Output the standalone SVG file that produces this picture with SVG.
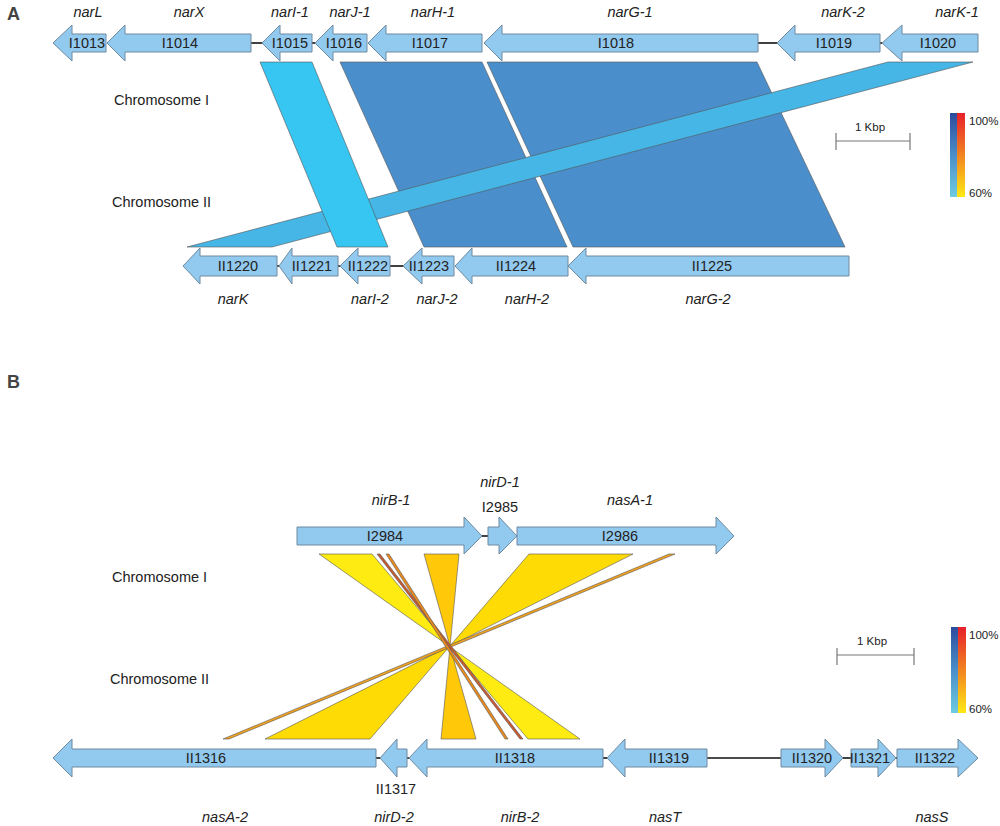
<svg xmlns="http://www.w3.org/2000/svg" width="1000" height="826" viewBox="0 0 1000 826">
<defs>
<style>
.gene{fill:#92C9EE;stroke:#6E8AA0;stroke-width:1}
.ln{stroke:#111;stroke-width:1.6;fill:none}
.lbl{font-family:"Liberation Sans",Arial,sans-serif;font-size:14.5px;fill:#222;text-anchor:middle}
.gn{font-family:"Liberation Sans",Arial,sans-serif;font-size:14.5px;font-style:italic;fill:#222;text-anchor:middle}
.chr{font-family:"Liberation Sans",Arial,sans-serif;font-size:14.5px;fill:#222}
.pl{font-family:"Liberation Sans",Arial,sans-serif;font-size:18px;font-weight:bold;fill:#444}
.sm{font-family:"Liberation Sans",Arial,sans-serif;font-size:11.5px;fill:#222}
.band{stroke:#555;stroke-width:0.6}
.bar{stroke:#777;stroke-width:1.2;fill:none}
</style>
<linearGradient id="gBlue" x1="0" y1="0" x2="0" y2="1">
<stop offset="0" stop-color="#2D4C9C"/><stop offset="0.5" stop-color="#4A8ECA"/><stop offset="1" stop-color="#6ECBE0"/>
</linearGradient>
<linearGradient id="gRed" x1="0" y1="0" x2="0" y2="1">
<stop offset="0" stop-color="#E8202A"/><stop offset="0.45" stop-color="#F07A22"/><stop offset="1" stop-color="#FFE814"/>
</linearGradient>
</defs>
<rect width="1000" height="826" fill="#fff"/>

<text class="pl" x="7" y="20">A</text>
<text class="pl" x="7" y="388">B</text>

<g id="bandsA">
<polygon class="band" fill="#4A8FCB" points="340,62 482,62 567,247 424,247"/>
<polygon class="band" fill="#4A8FCB" points="487,62 757,62 845,247 573,247"/>
<polygon class="band" fill="#46B6E7" points="888,62 973,62 272,247 187,247"/>
<polygon class="band" fill="#37C6F1" points="260,62 312,62 388,247 337,247"/>
</g>

<g id="bandsB">
<polygon class="band" fill="#FDEB12" points="319,554 372,554 528,739 580,739"/>
<polygon class="band" fill="#FFC90A" points="424,554 459,554 441,739 476,739"/>
<polygon class="band" fill="#FFDB05" points="529,554 633,554 265,739 370,739"/>
<polygon class="band" fill="#F2A21C" points="669,554 675,554 229,739 223,739"/>
<polygon class="band" fill="#C85A30" points="377,554 380,554 523,739 520,739"/>
<polygon class="band" fill="#E88A1C" points="386,554 389,554 508,739 505,739"/>
</g>

<g id="connectors">
<line class="ln" x1="251" y1="43" x2="262" y2="43"/>
<line class="ln" x1="312" y1="43" x2="315" y2="43"/>
<line class="ln" x1="758" y1="43" x2="777" y2="43"/>
<line class="ln" x1="880" y1="43" x2="882" y2="43"/>
<line class="ln" x1="277" y1="266" x2="279" y2="266"/>
<line class="ln" x1="338" y1="266" x2="340" y2="266"/>
<line class="ln" x1="390" y1="266" x2="403" y2="266"/>
<line class="ln" x1="482" y1="536" x2="488" y2="536"/>
<line class="ln" x1="376" y1="758" x2="380" y2="758"/>
<line class="ln" x1="407" y1="758" x2="409" y2="758"/>
<line class="ln" x1="603" y1="758" x2="607" y2="758"/>
<line class="ln" x1="707" y1="758" x2="781" y2="758"/>
<line class="ln" x1="843" y1="758" x2="851" y2="758"/>
<line class="ln" x1="896" y1="758" x2="897" y2="758"/>
</g>

<!-- Panel A top -->
<g id="I1013"><path class="gene" d="M53,43 L72,25 L72,34 L106,34 L106,52 L72,52 L72,61 Z"/><text class="lbl" x="87" y="48">I1013</text><text class="gn" x="88" y="17">narL</text></g>
<g id="I1014"><path class="gene" d="M107,43 L125,25 L125,34 L251,34 L251,52 L125,52 L125,61 Z"/><text class="lbl" x="180" y="48">I1014</text><text class="gn" x="189" y="17">narX</text></g>
<g id="I1015"><path class="gene" d="M262,43 L280,25 L280,34 L312,34 L312,52 L280,52 L280,61 Z"/><text class="lbl" x="290" y="48">I1015</text><text class="gn" x="290" y="17">narI-1</text></g>
<g id="I1016"><path class="gene" d="M315,43 L333,25 L333,34 L367,34 L367,52 L333,52 L333,61 Z"/><text class="lbl" x="344" y="48">I1016</text><text class="gn" x="350" y="17">narJ-1</text></g>
<g id="I1017"><path class="gene" d="M368,43 L386,25 L386,34 L482,34 L482,52 L386,52 L386,61 Z"/><text class="lbl" x="430" y="48">I1017</text><text class="gn" x="433" y="17">narH-1</text></g>
<g id="I1018"><path class="gene" d="M484,43 L502,25 L502,34 L758,34 L758,52 L502,52 L502,61 Z"/><text class="lbl" x="616" y="48">I1018</text><text class="gn" x="630" y="17">narG-1</text></g>
<g id="I1019"><path class="gene" d="M777,43 L795,25 L795,34 L880,34 L880,52 L795,52 L795,61 Z"/><text class="lbl" x="834" y="48">I1019</text><text class="gn" x="843" y="17">narK-2</text></g>
<g id="I1020"><path class="gene" d="M882,43 L902,25 L902,34 L978,34 L978,52 L902,52 L902,61 Z"/><text class="lbl" x="938" y="48">I1020</text><text class="gn" x="957" y="17">narK-1</text></g>

<text class="chr" x="114" y="105">Chromosome I</text>
<text class="chr" x="112" y="207">Chromosome II</text>

<!-- Panel A bottom -->
<g id="II1220"><path class="gene" d="M183,266 L200,248 L200,256 L277,256 L277,276 L200,276 L200,284 Z"/><text class="lbl" x="238" y="271">II1220</text><text class="gn" x="233" y="304">narK</text></g>
<g id="II1221"><path class="gene" d="M279,266 L292,248 L292,256 L338,256 L338,276 L292,276 L292,284 Z"/><text class="lbl" x="312" y="271">II1221</text></g>
<g id="II1222"><path class="gene" d="M340,266 L358,248 L358,256 L390,256 L390,276 L358,276 L358,284 Z"/><text class="lbl" x="368" y="271">II1222</text><text class="gn" x="370" y="304">narI-2</text></g>
<g id="II1223"><path class="gene" d="M403,266 L422,248 L422,256 L454,256 L454,276 L422,276 L422,284 Z"/><text class="lbl" x="429" y="271">II1223</text><text class="gn" x="437" y="304">narJ-2</text></g>
<g id="II1224"><path class="gene" d="M455,266 L472,248 L472,256 L568,256 L568,276 L472,276 L472,284 Z"/><text class="lbl" x="516" y="271">II1224</text><text class="gn" x="527" y="304">narH-2</text></g>
<g id="II1225"><path class="gene" d="M568,266 L586,248 L586,256 L849,256 L849,276 L586,276 L586,284 Z"/><text class="lbl" x="712" y="271">II1225</text><text class="gn" x="708" y="304">narG-2</text></g>

<g id="scaleA">
<line class="bar" x1="836" y1="141" x2="910" y2="141"/>
<line class="bar" x1="836" y1="133" x2="836" y2="150"/>
<line class="bar" x1="910" y1="133" x2="910" y2="150"/>
<text class="sm" x="870" y="131" text-anchor="middle">1 Kbp</text>
</g>
<g id="legendA">
<rect x="950" y="113" width="7" height="84" fill="url(#gBlue)"/>
<rect x="957" y="113" width="8" height="84" fill="url(#gRed)"/>
<text class="sm" x="969" y="125">100%</text>
<text class="sm" x="969" y="197">60%</text>
</g>

<!-- Panel B top -->
<g id="I2984"><path class="gene" d="M297,527 L464,527 L464,517 L482,536 L464,554 L464,545 L297,545 Z"/><text class="lbl" x="385" y="541">I2984</text><text class="gn" x="391" y="505">nirB-1</text></g>
<g id="I2985"><path class="gene" d="M488,527 L499,527 L499,517 L517,536 L499,554 L499,545 L488,545 Z"/><text class="lbl" x="500" y="512">I2985</text><text class="gn" x="500" y="487">nirD-1</text></g>
<g id="I2986"><path class="gene" d="M517,527 L716,527 L716,517 L734,536 L716,554 L716,545 L517,545 Z"/><text class="lbl" x="620" y="541">I2986</text><text class="gn" x="630" y="505">nasA-1</text></g>

<text class="chr" x="112" y="582">Chromosome I</text>
<text class="chr" x="110" y="684">Chromosome II</text>

<!-- Panel B bottom -->
<g id="II1316"><path class="gene" d="M53,758 L72,739 L72,749 L376,749 L376,767 L72,767 L72,777 Z"/><text class="lbl" x="206" y="763">II1316</text><text class="gn" x="225" y="822">nasA-2</text></g>
<g id="II1317"><path class="gene" d="M380,758 L397,739 L397,749 L407,749 L407,767 L397,767 L397,777 Z"/><text class="lbl" x="396" y="794">II1317</text><text class="gn" x="394" y="822">nirD-2</text></g>
<g id="II1318"><path class="gene" d="M409,758 L427,739 L427,749 L603,749 L603,767 L427,767 L427,777 Z"/><text class="lbl" x="515" y="763">II1318</text><text class="gn" x="520" y="822">nirB-2</text></g>
<g id="II1319"><path class="gene" d="M607,758 L625,739 L625,749 L707,749 L707,767 L625,767 L625,777 Z"/><text class="lbl" x="669" y="763">II1319</text><text class="gn" x="665" y="822">nasT</text></g>
<g id="II1320"><path class="gene" d="M781,749 L825,749 L825,739 L843,758 L825,777 L825,767 L781,767 Z"/><text class="lbl" x="812" y="763">II1320</text></g>
<g id="II1321"><path class="gene" d="M851,749 L878,749 L878,739 L896,758 L878,777 L878,767 L851,767 Z"/><text class="lbl" x="870" y="763">II1321</text></g>
<g id="II1322"><path class="gene" d="M897,749 L958,749 L958,739 L978,758 L958,777 L958,767 L897,767 Z"/><text class="lbl" x="935" y="763">II1322</text><text class="gn" x="932" y="822">nasS</text></g>

<g id="scaleB">
<line class="bar" x1="837" y1="655" x2="914" y2="655"/>
<line class="bar" x1="837" y1="648" x2="837" y2="665"/>
<line class="bar" x1="914" y1="648" x2="914" y2="665"/>
<text class="sm" x="872" y="645" text-anchor="middle">1 Kbp</text>
</g>
<g id="legendB">
<rect x="951" y="627" width="7" height="86" fill="url(#gBlue)"/>
<rect x="958" y="627" width="8" height="86" fill="url(#gRed)"/>
<text class="sm" x="969" y="639">100%</text>
<text class="sm" x="969" y="713">60%</text>
</g>
</svg>
